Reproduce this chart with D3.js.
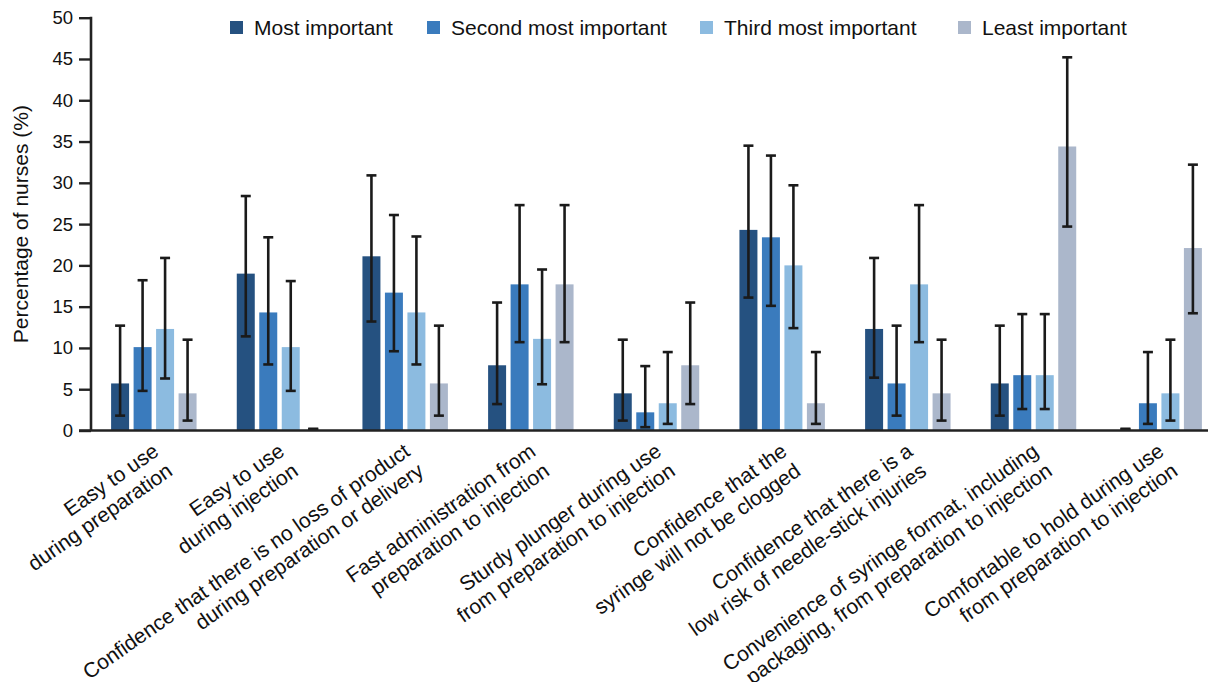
<!DOCTYPE html>
<html>
<head>
<meta charset="utf-8">
<script src="https://cdn.jsdelivr.net/npm/d3@7"></script>
<style>
  html, body { margin: 0; padding: 0; background: #fff; }
  svg text { font-family: "Liberation Sans", Arial, Helvetica, sans-serif; fill: #111; }
</style>
</head>
<body>
<div id="chart"></div>
<script>
// Categories (each label split over two lines)
const categories = [
  ['Easy to use', 'during preparation'],
  ['Easy to use', 'during injection'],
  ['Confidence that there is no loss of product', 'during preparation or delivery'],
  ['Fast administration from', 'preparation to injection'],
  ['Sturdy plunger during use', 'from preparation to injection'],
  ['Confidence that the', 'syringe will not be clogged'],
  ['Confidence that there is a', 'low risk of needle-stick injuries'],
  ['Convenience of syringe format, including', 'packaging, from preparation to injection'],
  ['Comfortable to hold during use', 'from preparation to injection']
];

const seriesNames = ['Most important', 'Second most important', 'Third most important', 'Least important'];

// Percentage of nurses, with 95% CI bounds
const mostImportant = [5.7, 19.0, 21.1, 7.9, 4.5, 24.3, 12.3, 5.7, 0];
const mostLow       = [1.8, 11.4, 13.2, 3.2, 1.2, 16.1, 6.4, 1.8, 0];
const mostHigh      = [12.7, 28.4, 30.9, 15.5, 11.0, 34.5, 20.9, 12.7, 0];

const secondImportant = [10.1, 14.3, 16.7, 17.7, 2.2, 23.4, 5.7, 6.7, 3.3];
const secondLow       = [4.8, 8.0, 9.6, 10.7, 0.4, 15.1, 1.8, 2.6, 0.8];
const secondHigh      = [18.2, 23.4, 26.1, 27.3, 7.8, 33.3, 12.7, 14.1, 9.5];

const thirdImportant = [12.3, 10.1, 14.3, 11.1, 3.3, 20.0, 17.7, 6.7, 4.5];
const thirdLow       = [6.3, 4.8, 8.0, 5.6, 0.8, 12.4, 10.7, 2.6, 1.2];
const thirdHigh      = [20.9, 18.1, 23.5, 19.5, 9.5, 29.7, 27.3, 14.1, 11.0];

const leastImportant = [4.5, 0, 5.7, 17.7, 7.9, 3.3, 4.5, 34.4, 22.1];
const leastLow       = [1.2, 0, 1.8, 10.7, 3.2, 0.8, 1.2, 24.7, 14.2];
const leastHigh      = [11.0, 0, 12.7, 27.3, 15.5, 9.5, 11.0, 45.2, 32.2];

const yTicks = [0, 5, 10, 15, 20, 25, 30, 35, 40, 45, 50];

const colors = ['#255180', '#3a7bbd', '#8cbbe0', '#abb7cb'];

const width = 1208, height = 682;

const svg = d3.select('#chart')
  .append('svg')
  .attr('width', width)
  .attr('height', height)
  .attr('viewBox', `0 0 ${width} ${height}`);

const axisX = 91;
const y = d3.scaleLinear().domain([0, 50]).range([430.5, 17.7]);

const x0 = d3.scaleBand()
  .domain(d3.range(categories.length))
  .range([axisX, 1222])
  .paddingInner(0.32)
  .paddingOuter(0.16);

const x1 = d3.scaleBand()
  .domain(d3.range(seriesNames.length))
  .range([0, x0.bandwidth()])
  .paddingInner(0.2);

const vals = [mostImportant, secondImportant, thirdImportant, leastImportant];
const lows = [mostLow, secondLow, thirdLow, leastLow];
const highs = [mostHigh, secondHigh, thirdHigh, leastHigh];

// flatten into rows for drawing
const rows = [];
categories.forEach((c, ci) => {
  seriesNames.forEach((s, si) => {
    rows.push({ ci, si, v: vals[si][ci], lo: lows[si][ci], hi: highs[si][ci] });
  });
});

// Bars
svg.append('g')
  .selectAll('rect')
  .data(rows)
  .enter()
  .append('rect')
  .attr('x', d => x0(d.ci) + x1(d.si))
  .attr('y', d => y(d.v))
  .attr('width', x1.bandwidth())
  .attr('height', d => y(0) - y(d.v))
  .attr('fill', d => colors[d.si]);

// Error bars
const capW = 5;
const eb = svg.append('g')
  .attr('stroke', '#1a1a1a')
  .attr('stroke-width', 2.6)
  .attr('fill', 'none');

rows.forEach(d => {
  const cx = x0(d.ci) + x1(d.si) + x1.bandwidth() / 2;
  const lift = d.hi === 0 ? 1.5 : 0;   // empty category: cap sits just on the baseline
  const g = eb.append('g');
  g.append('line').attr('x1', cx).attr('x2', cx).attr('y1', y(d.lo)).attr('y2', y(d.hi));
  g.append('line').attr('x1', cx - capW).attr('x2', cx + capW).attr('y1', y(d.hi) - lift).attr('y2', y(d.hi) - lift);
  g.append('line').attr('x1', cx - capW).attr('x2', cx + capW).attr('y1', y(d.lo) - lift).attr('y2', y(d.lo) - lift);
});

// Y axis
const yAxis = d3.axisLeft(y)
  .tickValues(yTicks)
  .tickSize(12)
  .tickPadding(6)
  .tickFormat(d3.format('d'));

const yg = svg.append('g')
  .attr('transform', `translate(${axisX},0)`)
  .call(yAxis);
yg.select('.domain').remove();
yg.selectAll('.tick line').attr('stroke', '#222').attr('stroke-width', 2.4);
yg.selectAll('.tick text')
  .attr('font-size', 18.5)
  .attr('fill', '#111')
  .style('font-family', '"Liberation Sans", Arial, sans-serif');

svg.append('line')
  .attr('x1', axisX).attr('x2', axisX)
  .attr('y1', y(50) - 1).attr('y2', y(0))
  .attr('stroke', '#222').attr('stroke-width', 2.6);

// X axis line
svg.append('line')
  .attr('x1', axisX - 12).attr('x2', width)
  .attr('y1', y(0)).attr('y2', y(0))
  .attr('stroke', '#222').attr('stroke-width', 2.6);

// Y axis title
svg.append('text')
  .attr('transform', `translate(28,${(y(0) + y(50)) / 2}) rotate(-90)`)
  .attr('text-anchor', 'middle')
  .attr('font-size', 21)
  .text('Percentage of nurses (%)');

// Category labels, rotated, right-aligned under each group
const labelAngle = -35;
const labels = svg.append('g')
  .selectAll('text')
  .data(categories)
  .enter()
  .append('text')
  .attr('transform', (d, i) => `translate(${x0(i) + x0.bandwidth() / 2 + 20},474) rotate(${labelAngle})`)
  .attr('text-anchor', 'end')
  .attr('font-size', 21);

labels.each(function(lines) {
  const t = d3.select(this);
  lines.forEach((line, k) => {
    t.append('tspan')
      .attr('x', 0)
      .attr('y', (k - (lines.length - 1)) * 24)
      .text(line);
  });
});

// Legend
const legendX = [230, 427, 700, 958];
const legend = svg.append('g')
  .selectAll('g')
  .data(seriesNames)
  .enter()
  .append('g')
  .attr('transform', (d, i) => `translate(${legendX[i]},21)`);

legend.append('rect')
  .attr('width', 13)
  .attr('height', 13)
  .attr('fill', (d, i) => colors[i]);

legend.append('text')
  .attr('x', 24)
  .attr('y', 14)
  .attr('font-size', 21)
  .text(d => d);
</script>
</body>
</html>
